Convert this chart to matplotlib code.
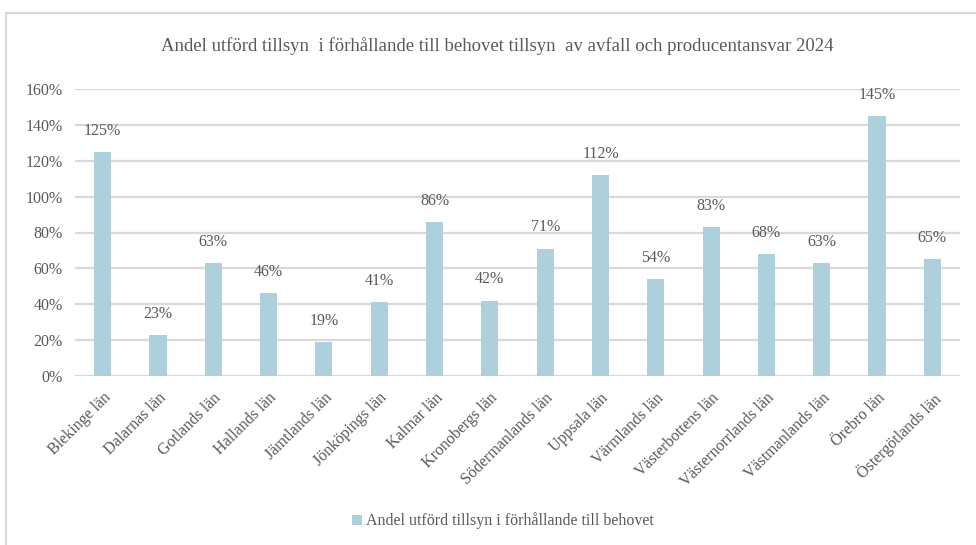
import matplotlib
matplotlib.use("Agg")
import matplotlib.pyplot as plt
from matplotlib.patches import Rectangle
from matplotlib.ticker import FuncFormatter

counties = ["Blekinge län", "Dalarnas län", "Gotlands län", "Hallands län",
            "Jämtlands län", "Jönköpings län", "Kalmar län", "Kronobergs län",
            "Södermanlands län", "Uppsala län", "Värmlands län", "Västerbottens län",
            "Västernorrlands län", "Västmanlands län", "Örebro län", "Östergötlands län"]
share = [125, 23, 63, 46, 19, 41, 86, 42, 71, 112, 54, 83, 68, 63, 145, 65]
series_name = "Andel utförd tillsyn i förhållande till behovet"
title = "Andel utförd tillsyn  i förhållande till behovet tillsyn  av avfall och producentansvar 2024"
y_ticks = [0, 20, 40, 60, 80, 100, 120, 140, 160]

plt.rcParams["font.family"] = ["Liberation Serif", "DejaVu Serif"]
text_color = "#595959"
bar_color = "#ADD0DC"
grid_color = "#D9D9D9"

W, H = 976, 545
fig = plt.figure(figsize=(W / 100, H / 100), dpi=100)
fig.patch.set_facecolor("white")

# outer chart frame (open on right and bottom)
fig.patches.append(Rectangle((6 / W, -0.05), 1.1, 1 - 13 / H + 0.05,
                             transform=fig.transFigure, fill=False,
                             edgecolor=grid_color, linewidth=1.5))

left, right = 75 / W, 960 / W
bottom, top = 1 - 376 / H, 1 - 89 / H
ax = fig.add_axes([left, bottom, right - left, top - bottom])

x = range(len(counties))
ax.bar(x, share, width=0.31, color=bar_color, label=series_name, zorder=3)
ax.set_xlim(-0.5, len(counties) - 0.5)
ax.set_ylim(0, 160)
ax.set_yticks(y_ticks)
ax.yaxis.set_major_formatter(FuncFormatter(lambda v, p: f"{v:.0f}%"))
ax.grid(axis="y", color=grid_color, linewidth=1.6, zorder=0)
for s in ax.spines.values():
    s.set_visible(False)
ax.tick_params(axis="both", length=0, colors=text_color, labelsize=11.5)
ax.tick_params(axis="y", pad=9)
ax.set_xticks(list(x))
ax.set_xticklabels(counties, rotation=45, ha="right", va="top",
                   rotation_mode="anchor", fontsize=11.5, color=text_color)
ax.tick_params(axis="x", pad=10)

for xi, v in zip(x, share):
    ax.annotate(f"{v}%", (xi, v), xytext=(0, 9.5), textcoords="offset points",
                ha="center", va="bottom", fontsize=11.5, color=text_color)

fig.text(497 / W, 1 - 46 / H, title, ha="center", va="center",
         fontsize=13.5, color=text_color)

handles, labels = ax.get_legend_handles_labels()
fig.legend(handles, labels, loc="center", bbox_to_anchor=(503 / W, 1 - 521 / H),
           frameon=False, fontsize=11.5, labelcolor=text_color,
           handlelength=0.6, handleheight=0.6, handletextpad=0.3)

fig.savefig("out.png", dpi=100, facecolor="white")
